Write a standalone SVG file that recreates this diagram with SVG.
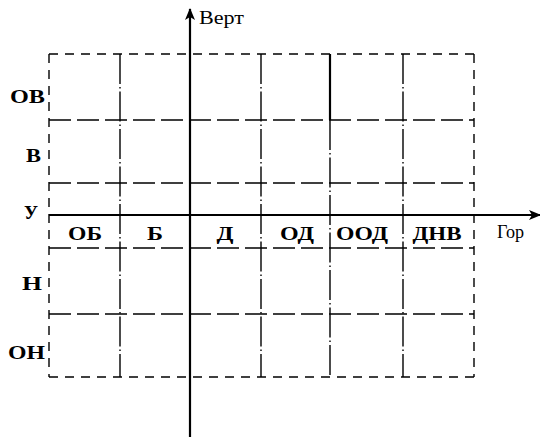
<svg xmlns="http://www.w3.org/2000/svg" width="540" height="438" viewBox="0 0 540 438">
  <style>
    .lbl { font-family: "Liberation Serif", "DejaVu Serif", serif; font-weight: bold; font-size: 19px; fill: #000; }
    .col { text-anchor: middle; }
    .row { text-anchor: end; }
    .axl { font-family: "Liberation Serif", "DejaVu Serif", serif; font-size: 19px; fill: #000; }
    .border { stroke: #000; stroke-width: 1.4; fill: none; stroke-dasharray: 9 7; }
    .hline { stroke: #000; stroke-width: 1.6; fill: none; stroke-dasharray: 22 6; }
    .vline { stroke: #000; stroke-width: 1.4; fill: none; stroke-dasharray: 30 3 1.5 3; }
    .axis { stroke: #000; stroke-width: 2.2; fill: none; }
  </style>
  <defs>
    <marker id="arrow" markerWidth="12" markerHeight="10" refX="11" refY="5" orient="auto" markerUnits="userSpaceOnUse">
      <path d="M0,0 L12,5 L0,10 L3,5 Z" fill="#000"/>
    </marker>
  </defs>
  <rect width="540" height="438" fill="#fff"/>

  <!-- grid lines -->
  <g id="grid">
    <line class="border" x1="49" y1="54" x2="474" y2="54"/>
    <line class="border" x1="49" y1="377" x2="474" y2="377"/>
    <line class="border" x1="49" y1="54" x2="49" y2="377"/>
    <line class="border" x1="474" y1="54" x2="474" y2="377"/>
    <line class="hline" x1="49" y1="120" x2="474" y2="120"/>
    <line class="hline" x1="49" y1="183" x2="474" y2="183"/>
    <line class="hline" x1="49" y1="248" x2="474" y2="248"/>
    <line class="hline" x1="49" y1="314" x2="474" y2="314"/>
    <line class="vline" x1="120" y1="54" x2="120" y2="377"/>
    <line class="vline" x1="261" y1="54" x2="261" y2="377"/>
    <line stroke="#000" stroke-width="2.2" x1="330" y1="54" x2="330" y2="120"/>
    <line class="vline" x1="330" y1="120" x2="330" y2="377"/>
    <line class="vline" x1="403" y1="54" x2="403" y2="377"/>
  </g>

  <!-- axes -->
  <g id="axes">
    <line class="axis" x1="190" y1="437" x2="190" y2="9" marker-end="url(#arrow)"/>
    <line class="axis" x1="49" y1="215" x2="540" y2="215" marker-end="url(#arrow)"/>
    <text class="axl" x="199" y="24" textLength="45" lengthAdjust="spacingAndGlyphs">Верт</text>
    <text class="axl" x="497" y="238" textLength="27" lengthAdjust="spacingAndGlyphs">Гор</text>
  </g>

  <!-- row labels -->
  <g id="rows">
    <text class="lbl row" x="45" y="103" textLength="35" lengthAdjust="spacingAndGlyphs">ОВ</text>
    <text class="lbl row" x="41" y="162" textLength="15" lengthAdjust="spacingAndGlyphs">В</text>
    <text class="lbl row" x="38" y="219" textLength="14" lengthAdjust="spacingAndGlyphs">У</text>
    <text class="lbl row" x="42" y="290" textLength="20" lengthAdjust="spacingAndGlyphs">Н</text>
    <text class="lbl row" x="45" y="359" textLength="37" lengthAdjust="spacingAndGlyphs">ОН</text>
  </g>

  <!-- column labels -->
  <g id="columns">
    <text class="lbl col" x="85" y="240" textLength="34" lengthAdjust="spacingAndGlyphs">ОБ</text>
    <text class="lbl col" x="155" y="240" textLength="16" lengthAdjust="spacingAndGlyphs">Б</text>
    <text class="lbl col" x="225" y="240" textLength="17" lengthAdjust="spacingAndGlyphs">Д</text>
    <text class="lbl col" x="297" y="240" textLength="34" lengthAdjust="spacingAndGlyphs">ОД</text>
    <text class="lbl col" x="362" y="240" textLength="52" lengthAdjust="spacingAndGlyphs">ООД</text>
    <text class="lbl col" x="437" y="240" textLength="49" lengthAdjust="spacingAndGlyphs">ДНВ</text>
  </g>
</svg>
